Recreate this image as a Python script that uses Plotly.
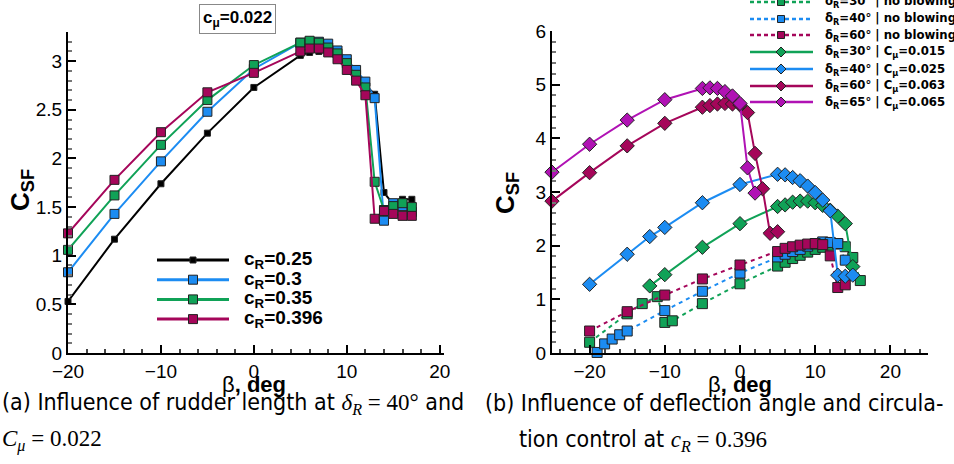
import plotly.graph_objects as go

# ---- (a) rudder length, delta_R=40deg, Cmu=0.022 ----
beta_a = [-20, -15, -10, -5, 0, 5, 6, 7, 8, 9, 10, 11, 12, 13, 14, 15, 16, 17]
cr_025 = [0.53, 1.17, 1.74, 2.26, 2.73, 3.06, 3.09, 3.10, 3.08, 3.02, 2.94, 2.85, 2.76, 2.66, 1.65, 1.53, 1.58, 1.58]
cr_030 = [0.83, 1.43, 1.97, 2.48, 2.92, 3.19, 3.20, 3.20, 3.18, 3.11, 3.02, 2.91, 2.79, 2.62, 1.36, 1.54, 1.51, 1.45]
cr_035 = [1.06, 1.62, 2.14, 2.60, 2.96, 3.19, 3.21, 3.19, 3.14, 3.08, 2.98, 2.86, 2.73, 1.76, 1.47, 1.51, 1.54, 1.50]
cr_0396 = [1.23, 1.78, 2.27, 2.68, 2.88, 3.10, 3.13, 3.13, 3.09, 3.02, 2.91, 2.80, 2.65, 1.38, 1.46, 1.43, 1.41, 1.41]
labels_a = ["c<sub>R</sub>=0.25", "c<sub>R</sub>=0.3", "c<sub>R</sub>=0.35", "c<sub>R</sub>=0.396"]

# ---- (b) deflection angle / blowing, c_R=0.396 ----
beta_d30_nb = [-20, -15, -13, -11, -10, -9, -5, 0, 5, 6, 7, 8, 9, 10, 11, 12, 13, 14, 15, 16]
csf_d30_nb = [0.20, 0.73, 0.92, 1.05, 0.57, 0.60, 0.92, 1.29, 1.62, 1.69, 1.76, 1.82, 1.88, 1.93, 1.97, 2.01, 2.03, 1.98, 1.78, 1.35]
beta_d40_nb = [-19, -18, -17, -16, -15, -10, -5, 0, 5, 6, 7, 8, 9, 10, 11, 12, 13, 14]
csf_d40_nb = [0.01, 0.17, 0.26, 0.34, 0.41, 0.79, 1.15, 1.49, 1.79, 1.84, 1.89, 1.93, 1.99, 2.03, 2.07, 2.06, 2.04, 1.73]
beta_d60_nb = [-20, -15, -10, -5, 0, 5, 6, 7, 8, 9, 10, 11, 12, 13, 14]
csf_d60_nb = [0.41, 0.77, 1.08, 1.38, 1.64, 1.89, 1.95, 1.98, 2.01, 2.03, 2.04, 2.02, 1.81, 1.22, 1.27]
beta_d30_cm = [-12, -10, -5, 0, 5, 6, 7, 8, 9, 10, 11, 12, 13, 14, 15]
csf_d30_cm = [1.25, 1.46, 1.97, 2.41, 2.73, 2.76, 2.81, 2.83, 2.83, 2.80, 2.75, 2.66, 2.55, 2.41, 1.61]
beta_d40_cm = [-20, -15, -12, -10, -5, 0, 5, 6, 7, 8, 9, 10, 11, 12, 13, 14, 15]
csf_d40_cm = [1.28, 1.84, 2.17, 2.34, 2.80, 3.14, 3.33, 3.32, 3.27, 3.21, 3.11, 2.99, 2.85, 2.65, 1.45, 1.43, 1.45]
beta_d60_cm = [-25, -20, -15, -10, -5, -4, -3, -2, -1, 0, 1, 2, 3, 4, 5]
csf_d60_cm = [2.83, 3.36, 3.86, 4.28, 4.58, 4.61, 4.64, 4.65, 4.64, 4.62, 4.48, 3.72, 3.06, 2.23, 2.26]
beta_d65_cm = [-25, -20, -15, -10, -5, -4, -3, -2, -1, 0, 1, 2]
csf_d65_cm = [3.37, 3.89, 4.34, 4.72, 4.93, 4.94, 4.93, 4.87, 4.79, 4.65, 3.45, 2.98]
labels_b = ["δ<sub>R</sub>=30° | no blowing", "δ<sub>R</sub>=40° | no blowing", "δ<sub>R</sub>=60° | no blowing",
            "δ<sub>R</sub>=30° | C<sub>μ</sub>=0.015", "δ<sub>R</sub>=40° | C<sub>μ</sub>=0.025",
            "δ<sub>R</sub>=60° | C<sub>μ</sub>=0.063", "δ<sub>R</sub>=65° | C<sub>μ</sub>=0.065"]

BLACK = "#000000"
BLUE = "#1c8cf2"
GREEN = "#10a257"
RED = "#a5065a"
PURPLE = "#b012b4"
FONT = "Liberation Sans"
NARROW = "DejaVu Sans Condensed, Liberation Sans Narrow, Liberation Sans"
SERIF = "Liberation Serif"

W, H = 954, 464
def px(x):
    return x / W
def py(y):
    return 1 - y / H

fig = go.Figure()

series_a = [(cr_025, BLACK, 6), (cr_030, BLUE, 9), (cr_035, GREEN, 9), (cr_0396, RED, 9)]
for ys, col, ms in series_a:
    fig.add_trace(go.Scatter(x=beta_a, y=ys, mode="lines+markers", xaxis="x", yaxis="y",
                             line=dict(color=col, width=2), cliponaxis=False, showlegend=False,
                             marker=dict(symbol="square", size=ms, color=col, line=dict(color="#222", width=1))))

series_b = [
    (beta_d30_nb, csf_d30_nb, GREEN, "dash", "square"),
    (beta_d40_nb, csf_d40_nb, BLUE, "dash", "square"),
    (beta_d60_nb, csf_d60_nb, RED, "dash", "square"),
    (beta_d30_cm, csf_d30_cm, GREEN, "solid", "diamond"),
    (beta_d40_cm, csf_d40_cm, BLUE, "solid", "diamond"),
    (beta_d60_cm, csf_d60_cm, RED, "solid", "diamond"),
    (beta_d65_cm, csf_d65_cm, PURPLE, "solid", "diamond"),
]
for xs, ys, col, dash, sym in series_b:
    fig.add_trace(go.Scatter(x=xs, y=ys, mode="lines+markers", xaxis="x2", yaxis="y2",
                             line=dict(color=col, width=2, dash="4px,4px" if dash == "dash" else "solid"),
                             cliponaxis=False, showlegend=False,
                             marker=dict(symbol=sym, size=10 if sym == "square" else 11, color=col,
                                         line=dict(color="#222", width=1))))

axis_common = dict(showline=True, linecolor="black", linewidth=2, ticks="inside", ticklen=8,
                   tickwidth=1.5, tickcolor="black", showgrid=False, zeroline=False, automargin=False,
                   tickfont=dict(family=FONT, size=19, color="black"))
fig.update_layout(
    width=W, height=H, margin=dict(l=0, r=0, t=0, b=0, autoexpand=False),
    paper_bgcolor="white", plot_bgcolor="white", showlegend=False,
    xaxis=dict(domain=[px(68), px(444)], range=[-20, 20.46], dtick=10, tick0=0,
               minor=dict(ticks="inside", ticklen=4, dtick=2, tickcolor="#444"), anchor="y", **axis_common),
    yaxis=dict(domain=[py(353), py(32)], range=[0, 3.3], dtick=0.5, tick0=0,
               minor=dict(ticks="inside", ticklen=4, dtick=0.1, tickcolor="#777"), anchor="x", **axis_common),
    xaxis2=dict(domain=[px(552), px(928)], range=[-25, 25], dtick=10, tick0=0,
                minor=dict(ticks="inside", ticklen=4, dtick=2, tickcolor="#444"), anchor="y2", **axis_common),
    yaxis2=dict(domain=[py(353), py(31)], range=[0, 6], dtick=1, tick0=0,
                minor=dict(ticks="inside", ticklen=4, dtick=0.2, tickcolor="#777"), anchor="x2", **axis_common),
)

ann = []
shapes = []

def note(x, y, text, size, family=FONT, xanchor="center", **kw):
    ann.append(dict(x=px(x), y=py(y), xref="paper", yref="paper", text=text, showarrow=False,
                    xanchor=xanchor, yanchor="middle", font=dict(family=family, size=size, color="black"), **kw))

# axis titles
for xc, yc in [(21, 190), (506, 193)]:
    note(xc, yc, "<b>C<sub>SF</sub></b>", 26, textangle=-90)
for xc in [254, 740]:
    note(xc, 384, "β<b>, deg</b>", 22)

# c_mu box
note(237, 19, "<b>c<sub>μ</sub>=0.022</b>", 17, bordercolor="#888", borderwidth=1, borderpad=3, bgcolor="white")

# legend (a)
for i, (ys, col, ms) in enumerate(series_a):
    yy = 260 + 19.7 * i
    shapes.append(dict(type="line", xref="paper", yref="paper", x0=px(157), x1=px(229), y0=py(yy), y1=py(yy),
                       line=dict(color=col, width=3)))
    h = ms / 2
    shapes.append(dict(type="rect", xref="paper", yref="paper", x0=px(193 - h), x1=px(193 + h),
                       y0=py(yy + h), y1=py(yy - h), fillcolor=col, line=dict(color="#222", width=1)))
    note(242, yy, "<b>" + labels_a[i] + "</b>", 19, xanchor="left")

# legend (b)
rows_b = [2, 19, 35, 52, 69, 86, 102]
for i, (xs, ys, col, dash, sym) in enumerate(series_b):
    yy = rows_b[i]
    shapes.append(dict(type="line", xref="paper", yref="paper", x0=px(750), x1=px(813), y0=py(yy), y1=py(yy),
                       line=dict(color=col, width=2.5, dash="4px,3px" if dash == "dash" else "solid")))
    if sym == "square":
        shapes.append(dict(type="rect", xref="paper", yref="paper", x0=px(777.5), x1=px(784.5),
                           y0=py(yy + 3.5), y1=py(yy - 3.5), fillcolor=col, line=dict(color="#222", width=1)))
    else:
        d = 5
        path = "M {},{} L {},{} L {},{} L {},{} Z".format(px(781 - d), py(yy), px(781), py(yy - d),
                                                         px(781 + d), py(yy), px(781), py(yy + d))
        shapes.append(dict(type="path", xref="paper", yref="paper", path=path, fillcolor=col,
                           line=dict(color="#222", width=1)))
    note(823, yy, "<b>" + labels_b[i] + "</b>", 13, family=NARROW, xanchor="left")

# captions
m = '<span style="font-family:%s">' % SERIF
note(0, 403, "(a) Influence of rudder length at " + m + "<i>δ<sub>R</sub></i> = 40°</span> and", 23,
     family=NARROW, xanchor="left")
note(0, 440, m + "<i>C<sub>μ</sub></i> = 0.022</span>", 23, family=NARROW, xanchor="left")
note(483, 403, "(b) Influence of deflection angle and circula-", 23, family=NARROW, xanchor="left")
note(517, 440, "tion control at " + m + "<i>c<sub>R</sub></i> = 0.396</span>", 23, family=NARROW, xanchor="left")

fig.update_layout(annotations=ann, shapes=shapes)
fig.write_html("out.html", config={"displayModeBar": False},
               post_script="document.body.style.margin='0';")
